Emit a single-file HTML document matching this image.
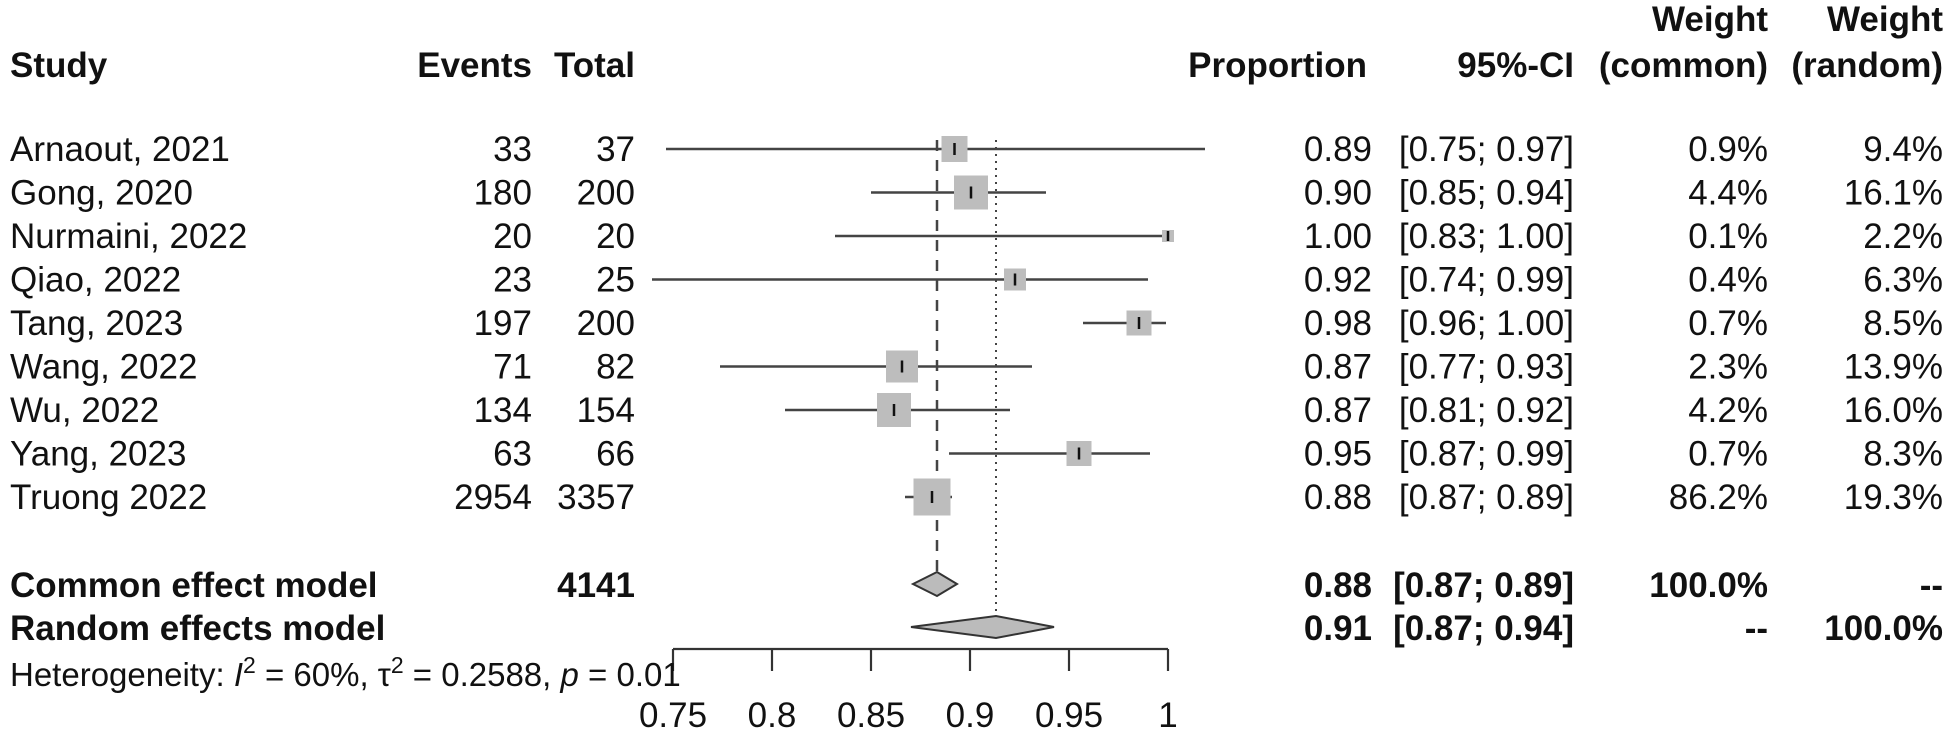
<!DOCTYPE html>
<html><head><meta charset="utf-8"><style>
html,body{margin:0;padding:0;background:#fff;}
svg{display:block;}
text{font-family:"Liberation Sans",Arial,sans-serif;font-size:35px;fill:#111;}
.b{font-weight:bold;}
.r{text-anchor:end;}
.c{text-anchor:middle;}
</style></head><body>
<svg width="1948" height="737" viewBox="0 0 1948 737" xmlns="http://www.w3.org/2000/svg">
<!-- headers -->
<text class="b r" x="1768" y="31">Weight</text>
<text class="b r" x="1943" y="31">Weight</text>
<text class="b" x="10" y="77">Study</text>
<text class="b r" x="532" y="77">Events</text>
<text class="b r" x="635" y="77">Total</text>
<text class="b r" x="1367" y="77">Proportion</text>
<text class="b r" x="1574" y="77">95%-CI</text>
<text class="b r" x="1768" y="77">(common)</text>
<text class="b r" x="1943" y="77">(random)</text>

<!-- reference lines -->
<line x1="937" y1="140" x2="937" y2="574" stroke="#444" stroke-width="2.5" stroke-dasharray="11,9"/>
<line x1="996" y1="140" x2="996" y2="616" stroke="#444" stroke-width="2" stroke-dasharray="2,5"/>

<g stroke="#444" stroke-width="2.5">
<line x1="666" y1="149" x2="1205" y2="149"/>
<line x1="871" y1="192.5" x2="1046" y2="192.5"/>
<line x1="835" y1="236" x2="1168" y2="236"/>
<line x1="652" y1="279.5" x2="1148" y2="279.5"/>
<line x1="1083" y1="323" x2="1166" y2="323"/>
<line x1="720" y1="366.5" x2="1032" y2="366.5"/>
<line x1="785" y1="410" x2="1010" y2="410"/>
<line x1="949" y1="453.5" x2="1150" y2="453.5"/>
<line x1="905" y1="497" x2="952" y2="497"/>
</g>
<g fill="#bdbdbd">
<rect x="941.5" y="136" width="26" height="26"/>
<rect x="954" y="175.5" width="34" height="34"/>
<rect x="1162" y="230" width="12" height="12"/>
<rect x="1004" y="268.5" width="22" height="22"/>
<rect x="1126.5" y="310.5" width="25" height="25"/>
<rect x="886" y="350.5" width="32" height="32"/>
<rect x="877" y="393" width="34" height="34"/>
<rect x="1066.5" y="441" width="25" height="25"/>
<rect x="913.5" y="478.5" width="37" height="37"/>
</g>
<g stroke="#111" stroke-width="2.5">
<line x1="954.5" y1="143" x2="954.5" y2="155"/>
<line x1="971" y1="186.5" x2="971" y2="198.5"/>
<line x1="1168" y1="231" x2="1168" y2="241"/>
<line x1="1015" y1="273.5" x2="1015" y2="285.5"/>
<line x1="1139" y1="317" x2="1139" y2="329"/>
<line x1="902" y1="360.5" x2="902" y2="372.5"/>
<line x1="894" y1="404" x2="894" y2="416"/>
<line x1="1079" y1="447.5" x2="1079" y2="459.5"/>
<line x1="932" y1="491" x2="932" y2="503"/>
</g>

<!-- diamonds -->
<polygon points="913,584 937,572 957,584 937,596" fill="#bbb" stroke="#333" stroke-width="2"/>
<polygon points="911,627 996,616 1054,627 996,638" fill="#bbb" stroke="#333" stroke-width="2"/>

<!-- axis -->
<g stroke="#333" stroke-width="2.2">
<line x1="673" y1="649" x2="1168" y2="649"/>
<line x1="673" y1="649" x2="673" y2="671"/>
<line x1="772" y1="649" x2="772" y2="671"/>
<line x1="871" y1="649" x2="871" y2="671"/>
<line x1="970" y1="649" x2="970" y2="671"/>
<line x1="1069" y1="649" x2="1069" y2="671"/>
<line x1="1168" y1="649" x2="1168" y2="671"/>
</g>
<g style="font-size:34px">
<text class="c" x="673" y="727">0.75</text>
<text class="c" x="772" y="727">0.8</text>
<text class="c" x="871" y="727">0.85</text>
<text class="c" x="970" y="727">0.9</text>
<text class="c" x="1069" y="727">0.95</text>
<text class="c" x="1168" y="727">1</text>
</g>

<!-- study rows -->
<g>
<text x="10" y="161">Arnaout, 2021</text><text class="r" x="532" y="161">33</text><text class="r" x="635" y="161">37</text>
<text class="r" x="1372" y="161">0.89</text><text class="r" x="1574" y="161">[0.75; 0.97]</text><text class="r" x="1768" y="161">0.9%</text><text class="r" x="1943" y="161">9.4%</text>

<text x="10" y="204.5">Gong, 2020</text><text class="r" x="532" y="204.5">180</text><text class="r" x="635" y="204.5">200</text>
<text class="r" x="1372" y="204.5">0.90</text><text class="r" x="1574" y="204.5">[0.85; 0.94]</text><text class="r" x="1768" y="204.5">4.4%</text><text class="r" x="1943" y="204.5">16.1%</text>

<text x="10" y="248">Nurmaini, 2022</text><text class="r" x="532" y="248">20</text><text class="r" x="635" y="248">20</text>
<text class="r" x="1372" y="248">1.00</text><text class="r" x="1574" y="248">[0.83; 1.00]</text><text class="r" x="1768" y="248">0.1%</text><text class="r" x="1943" y="248">2.2%</text>

<text x="10" y="291.5">Qiao, 2022</text><text class="r" x="532" y="291.5">23</text><text class="r" x="635" y="291.5">25</text>
<text class="r" x="1372" y="291.5">0.92</text><text class="r" x="1574" y="291.5">[0.74; 0.99]</text><text class="r" x="1768" y="291.5">0.4%</text><text class="r" x="1943" y="291.5">6.3%</text>

<text x="10" y="335">Tang, 2023</text><text class="r" x="532" y="335">197</text><text class="r" x="635" y="335">200</text>
<text class="r" x="1372" y="335">0.98</text><text class="r" x="1574" y="335">[0.96; 1.00]</text><text class="r" x="1768" y="335">0.7%</text><text class="r" x="1943" y="335">8.5%</text>

<text x="10" y="378.5">Wang, 2022</text><text class="r" x="532" y="378.5">71</text><text class="r" x="635" y="378.5">82</text>
<text class="r" x="1372" y="378.5">0.87</text><text class="r" x="1574" y="378.5">[0.77; 0.93]</text><text class="r" x="1768" y="378.5">2.3%</text><text class="r" x="1943" y="378.5">13.9%</text>

<text x="10" y="422">Wu, 2022</text><text class="r" x="532" y="422">134</text><text class="r" x="635" y="422">154</text>
<text class="r" x="1372" y="422">0.87</text><text class="r" x="1574" y="422">[0.81; 0.92]</text><text class="r" x="1768" y="422">4.2%</text><text class="r" x="1943" y="422">16.0%</text>

<text x="10" y="465.5">Yang, 2023</text><text class="r" x="532" y="465.5">63</text><text class="r" x="635" y="465.5">66</text>
<text class="r" x="1372" y="465.5">0.95</text><text class="r" x="1574" y="465.5">[0.87; 0.99]</text><text class="r" x="1768" y="465.5">0.7%</text><text class="r" x="1943" y="465.5">8.3%</text>

<text x="10" y="509">Truong 2022</text><text class="r" x="532" y="509">2954</text><text class="r" x="635" y="509">3357</text>
<text class="r" x="1372" y="509">0.88</text><text class="r" x="1574" y="509">[0.87; 0.89]</text><text class="r" x="1768" y="509">86.2%</text><text class="r" x="1943" y="509">19.3%</text>
</g>

<!-- summary rows -->
<text class="b" x="10" y="597">Common effect model</text>
<text class="b r" x="635" y="597">4141</text>
<text class="b r" x="1372" y="597">0.88</text><text class="b r" x="1574" y="597">[0.87; 0.89]</text>
<text class="b r" x="1768" y="597">100.0%</text><text class="b r" x="1943" y="597">--</text>

<text class="b" x="10" y="640">Random effects model</text>
<text class="b r" x="1372" y="640">0.91</text><text class="b r" x="1574" y="640">[0.87; 0.94]</text>
<text class="b r" x="1768" y="640">--</text><text class="b r" x="1943" y="640">100.0%</text>

<text x="10" y="686" style="font-size:33px">Heterogeneity: <tspan font-style="italic">I</tspan><tspan dy="-13" style="font-size:23px">2</tspan><tspan dy="13"> = 60%, τ</tspan><tspan dy="-13" style="font-size:23px">2</tspan><tspan dy="13"> = 0.2588, </tspan><tspan font-style="italic">p</tspan> = 0.01</text>
</svg>
</body></html>
